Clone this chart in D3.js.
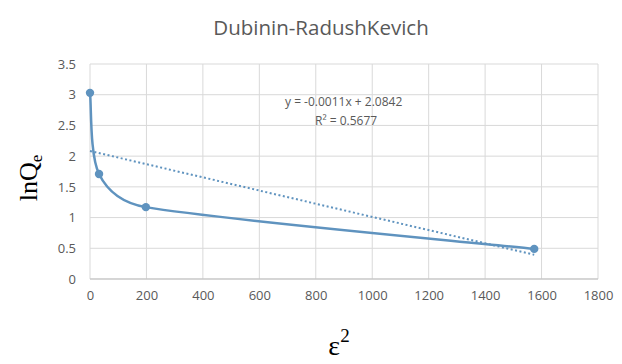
<!DOCTYPE html>
<html><head><meta charset="utf-8">
<script src="https://cdn.jsdelivr.net/npm/d3@7"></script>
<style>body{margin:0;background:#fff}</style>
</head><body>
<svg id="c" width="622" height="364"></svg>
<script>
const xValues = [0, 32, 198, 1574];
const yValues = [3.03, 1.71, 1.17, 0.49];
const xTicks = [0, 200, 400, 600, 800, 1000, 1200, 1400, 1600, 1800];
const yTicks = [0, 0.5, 1, 1.5, 2, 2.5, 3, 3.5];
const title = "Dubinin-RadushKevich";
const equationText = "y = -0.0011x + 2.0842";
const r2Text = "R² = 0.5677";

const svg = d3.select("#c");
const x = d3.scaleLinear().domain([0, 1800]).range([90, 598]);
const y = d3.scaleLinear().domain([0, 3.5]).range([279, 64]);
const grey = "#595959";
const blue = "#5f93bf";
const sans = "'Open Sans', sans-serif";

// grid
svg.append("g").selectAll("line").data(yTicks).join("line")
  .attr("x1", 90).attr("x2", 598).attr("y1", d => y(d)).attr("y2", d => y(d))
  .attr("stroke", "#d9d9d9").attr("stroke-width", 1);
svg.append("g").selectAll("line").data(xTicks).join("line")
  .attr("y1", 64).attr("y2", 279).attr("x1", d => x(d)).attr("x2", d => x(d))
  .attr("stroke", "#d9d9d9").attr("stroke-width", 1);
svg.append("line").attr("x1", 90).attr("x2", 598).attr("y1", 279).attr("y2", 279)
  .attr("stroke", "#bfbfbf").attr("stroke-width", 1);

// axes labels
const xAxis = d3.axisBottom(x).tickValues(xTicks).tickSize(0).tickPadding(12).tickFormat(d3.format("d"));
const gx = svg.append("g").attr("transform", "translate(0,279)").call(xAxis);
gx.select(".domain").remove();
gx.selectAll("text").attr("fill", grey).style("font-family", sans).style("font-size", "13px");
const yAxis = d3.axisLeft(y).tickValues(yTicks).tickSize(0).tickPadding(14).tickFormat(d3.format("~g"));
const gy = svg.append("g").attr("transform", "translate(90,0)").call(yAxis);
gy.select(".domain").remove();
gy.selectAll("text").attr("fill", grey).style("font-family", sans).style("font-size", "13px");

// trendline (least squares)
const mx = d3.mean(xValues), my = d3.mean(yValues);
const slope = d3.sum(xValues.map((v, i) => (v - mx) * (yValues[i] - my))) / d3.sum(xValues.map(v => (v - mx) ** 2));
const intercept = my - slope * mx;
const x0 = d3.min(xValues), x1 = d3.max(xValues);
svg.append("line")
  .attr("x1", x(x0)).attr("y1", y(intercept + slope * x0))
  .attr("x2", x(x1)).attr("y2", y(intercept + slope * x1))
  .attr("stroke", blue).attr("stroke-width", 2).attr("stroke-dasharray", "2,2.5");

// smoothed series (Excel-like bezier in pixel space)
const P = xValues.map((v, i) => [x(v), y(yValues[i])]);
function dist(a, b) { return Math.hypot(b[0] - a[0], b[1] - a[1]); }
function arm(prev, cur, next, seg) {
  const dx = next[0] - prev[0], dy = next[1] - prev[1];
  const L = Math.hypot(dx, dy) || 1;
  const len = Math.min(L / 6, seg * 0.4);
  return [dx / L * len, dy / L * len];
}
const path = d3.path();
path.moveTo(P[0][0], P[0][1]);
for (let i = 0; i < P.length - 1; i++) {
  const p0 = P[Math.max(i - 1, 0)], p1 = P[i], p2 = P[i + 1], p3 = P[Math.min(i + 2, P.length - 1)];
  const seg = dist(p1, p2);
  const a1 = arm(p0, p1, p2, seg), a2 = arm(p1, p2, p3, seg);
  path.bezierCurveTo(p1[0] + a1[0], p1[1] + a1[1], p2[0] - a2[0], p2[1] - a2[1], p2[0], p2[1]);
}
svg.append("path").attr("d", path.toString())
  .attr("fill", "none").attr("stroke", blue).attr("stroke-width", 2.5);
svg.append("g").selectAll("circle").data(P).join("circle")
  .attr("cx", d => d[0]).attr("cy", d => d[1]).attr("r", 4.2)
  .attr("fill", blue);

// title
svg.append("text").attr("x", 321).attr("y", 35).attr("text-anchor", "middle")
  .attr("fill", grey).style("font-family", sans).style("font-size", "20.5px")
  .text(title);

// equation
svg.append("text").attr("x", 285).attr("y", 106).attr("text-anchor", "start")
  .attr("fill", grey).style("font-family", sans).style("font-size", "12px")
  .text(equationText);
svg.append("text").attr("x", 315).attr("y", 125).attr("text-anchor", "start")
  .attr("fill", grey).style("font-family", sans).style("font-size", "12px")
  .text(r2Text);

// y-axis title
const yt = svg.append("text").attr("transform", "translate(37,178) rotate(-90)")
  .attr("text-anchor", "middle").attr("fill", "#000")
  .style("font-family", "'Liberation Serif', serif").style("font-size", "26px");
yt.append("tspan").text("lnQ");
yt.append("tspan").attr("dy", 5).style("font-size", "17px").text("e");

// x-axis title
const xt = svg.append("text").attr("x", 339).attr("y", 355).attr("text-anchor", "middle")
  .attr("fill", "#000").style("font-family", "'Liberation Serif', serif").style("font-size", "28px");
xt.append("tspan").text("ε");
xt.append("tspan").attr("dy", -13).style("font-size", "19px").text("2");
</script>
</body></html>
